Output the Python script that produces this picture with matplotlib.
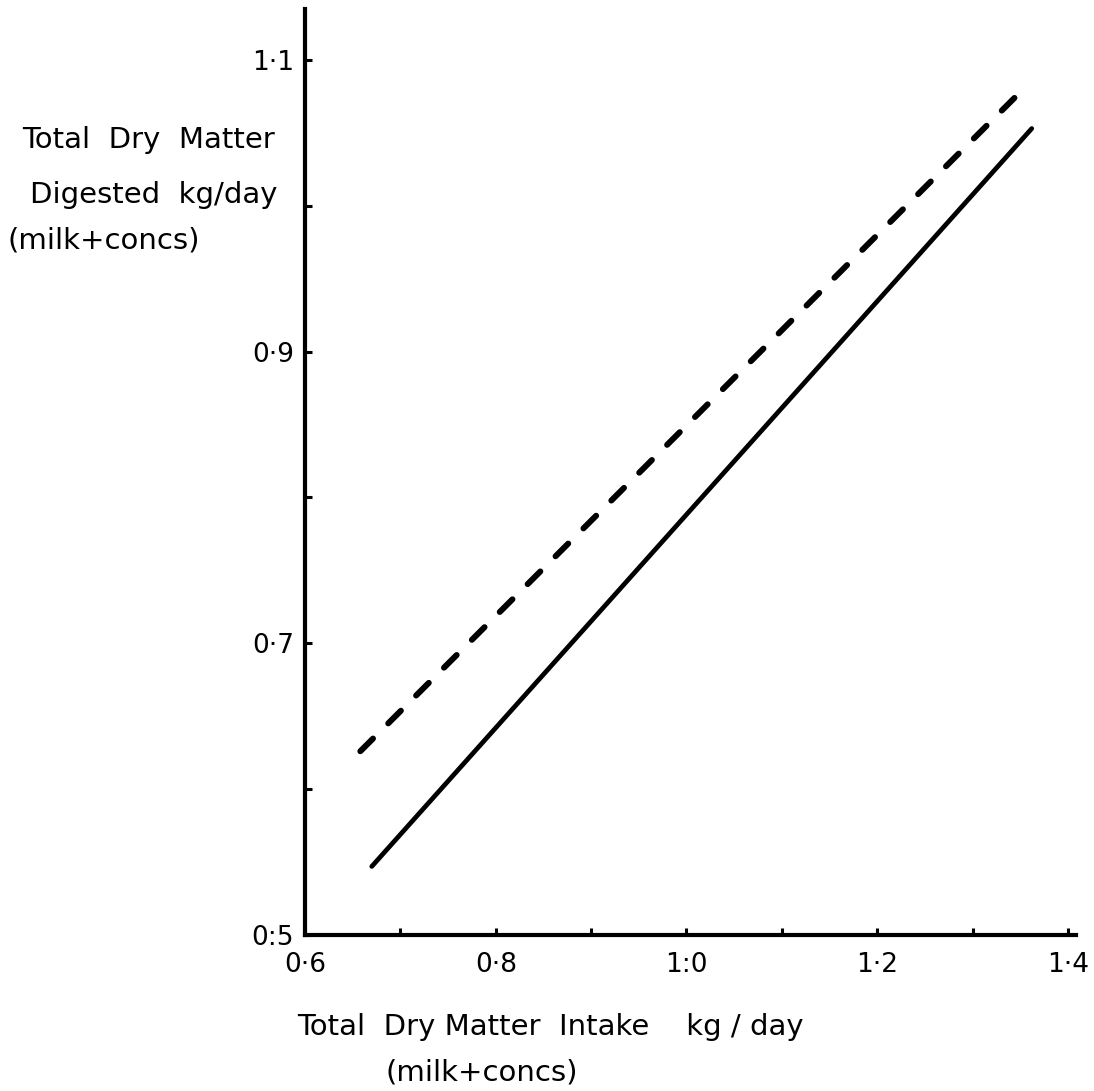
import matplotlib
matplotlib.use("Agg")
import matplotlib.pyplot as plt

# Regression lines: total dry matter digested vs. total dry matter intake
solid_x = [0.670, 1.362]
solid_y = [0.547, 1.053]
dashed_x = [0.658, 1.350]
dashed_y = [0.626, 1.078]

x_ticks = [0.6, 0.7, 0.8, 0.9, 1.0, 1.1, 1.2, 1.3, 1.4]
x_ticklabels = ["0·6", "", "0·8", "", "1:0", "", "1·2", "", "1·4"]
y_ticks = [0.5, 0.6, 0.7, 0.8, 0.9, 1.0, 1.1]
y_ticklabels = ["0:5", "", "0·7", "", "0·9", "", "1·1"]

plt.rcParams["font.family"] = ["DejaVu Sans"]

fig = plt.figure(figsize=(10.94, 10.91), dpi=100)
ax = fig.add_axes([0.2788, 0.1430, 0.7044, 0.8488])

ax.plot(solid_x, solid_y, color="black", lw=3.4, solid_capstyle="round")
ax.plot(dashed_x, dashed_y, color="black", lw=4.3, linestyle=(0, (3.0, 3.6)),
        dash_capstyle="round")

ax.set_xlim(0.6, 1.408)
ax.set_ylim(0.5, 1.135)

for side in ("top", "right"):
    ax.spines[side].set_visible(False)
for side in ("left", "bottom"):
    ax.spines[side].set_linewidth(3.0)

ax.set_xticks(x_ticks)
ax.set_xticklabels(x_ticklabels)
ax.set_yticks(y_ticks)
ax.set_yticklabels(y_ticklabels)
ax.tick_params(direction="in", length=5, width=2.2, labelsize=19)
ax.tick_params(axis="x", pad=12)
ax.tick_params(axis="y", pad=8)

label_kw = dict(fontsize=21, ha="left", va="center")
fig.text(22 / 1094, 1 - 140 / 1091, "Total  Dry  Matter", **label_kw)
fig.text(30 / 1094, 1 - 195 / 1091, "Digested  kg/day", **label_kw)
fig.text(8 / 1094, 1 - 240 / 1091, "(milk+concs)", **label_kw)

fig.text(297 / 1094, 1 - 1027 / 1091, "Total  Dry Matter  Intake    kg / day",
         **label_kw)
fig.text(385 / 1094, 1 - 1072 / 1091, "(milk+concs)", **label_kw)

fig.savefig("out.png", dpi=100, facecolor="white")
